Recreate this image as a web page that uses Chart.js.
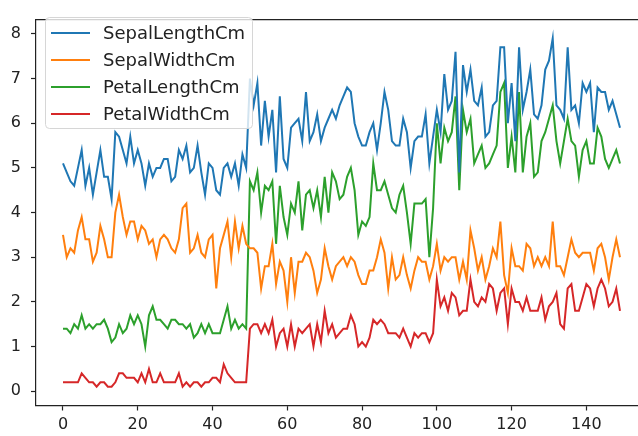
<!DOCTYPE html>
<html>
<head>
<meta charset="utf-8">
<script src="https://cdn.jsdelivr.net/npm/chart.js@4"></script>
<style>
  html, body { margin: 0; padding: 0; background: #fff; overflow: hidden; }
  #wrap { position: relative; width: 659px; height: 436px; }
</style>
</head>
<body>
<div id="wrap"><canvas id="chart"></canvas></div>
<script>
// Iris measurements, one value per row (index 0..149)
const sepalLength = [5.1,4.9,4.7,4.6,5.0,5.4,4.6,5.0,4.4,4.9,5.4,4.8,4.8,4.3,5.8,5.7,5.4,5.1,5.7,5.1,5.4,5.1,4.6,5.1,4.8,5.0,5.0,5.2,5.2,4.7,4.8,5.4,5.2,5.5,4.9,5.0,5.5,4.9,4.4,5.1,5.0,4.5,4.4,5.0,5.1,4.8,5.1,4.6,5.3,5.0,
  7.0,6.4,6.9,5.5,6.5,5.7,6.3,4.9,6.6,5.2,5.0,5.9,6.0,6.1,5.6,6.7,5.6,5.8,6.2,5.6,5.9,6.1,6.3,6.1,6.4,6.6,6.8,6.7,6.0,5.7,5.5,5.5,5.8,6.0,5.4,6.0,6.7,6.3,5.6,5.5,5.5,6.1,5.8,5.0,5.6,5.7,5.7,6.2,5.1,5.7,
  6.3,5.8,7.1,6.3,6.5,7.6,4.9,7.3,6.7,7.2,6.5,6.4,6.8,5.7,5.8,6.4,6.5,7.7,7.7,6.0,6.9,5.6,7.7,6.3,6.7,7.2,6.2,6.1,6.4,7.2,7.4,7.9,6.4,6.3,6.1,7.7,6.3,6.4,6.0,6.9,6.7,6.9,5.8,6.8,6.7,6.7,6.3,6.5,6.2,5.9];
const sepalWidth = [3.5,3.0,3.2,3.1,3.6,3.9,3.4,3.4,2.9,3.1,3.7,3.4,3.0,3.0,4.0,4.4,3.9,3.5,3.8,3.8,3.4,3.7,3.6,3.3,3.4,3.0,3.4,3.5,3.4,3.2,3.1,3.4,4.1,4.2,3.1,3.2,3.5,3.1,3.0,3.4,3.5,2.3,3.2,3.5,3.8,3.0,3.8,3.2,3.7,3.3,
  3.2,3.2,3.1,2.3,2.8,2.8,3.3,2.4,2.9,2.7,2.0,3.0,2.2,2.9,2.9,3.1,3.0,2.7,2.2,2.5,3.2,2.8,2.5,2.8,2.9,3.0,2.8,3.0,2.9,2.6,2.4,2.4,2.7,2.7,3.0,3.4,3.1,2.3,3.0,2.5,2.6,3.0,2.6,2.3,2.7,3.0,2.9,2.9,2.5,2.8,
  3.3,2.7,3.0,2.9,3.0,3.0,2.5,2.9,2.5,3.6,3.2,2.7,3.0,2.5,2.8,3.2,3.0,3.8,2.6,2.2,3.2,2.8,2.8,2.7,3.3,3.2,2.8,3.0,2.8,3.0,2.8,3.8,2.8,2.8,2.6,3.0,3.4,3.1,3.0,3.1,3.1,3.1,2.7,3.2,3.3,3.0,2.5,3.0,3.4,3.0];
const petalLength = [1.4,1.4,1.3,1.5,1.4,1.7,1.4,1.5,1.4,1.5,1.5,1.6,1.4,1.1,1.2,1.5,1.3,1.4,1.7,1.5,1.7,1.5,1.0,1.7,1.9,1.6,1.6,1.5,1.4,1.6,1.6,1.5,1.5,1.4,1.5,1.2,1.3,1.5,1.3,1.5,1.3,1.3,1.3,1.6,1.9,1.4,1.6,1.4,1.5,1.4,
  4.7,4.5,4.9,4.0,4.6,4.5,4.7,3.3,4.6,3.9,3.5,4.2,4.0,4.7,3.6,4.4,4.5,4.1,4.5,3.9,4.8,4.0,4.9,4.7,4.3,4.4,4.8,5.0,4.5,3.5,3.8,3.7,3.9,5.1,4.5,4.5,4.7,4.4,4.1,4.0,4.4,4.6,4.0,3.3,4.2,4.2,4.2,4.3,3.0,4.1,
  6.0,5.1,5.9,5.6,5.8,6.6,4.5,6.3,5.8,6.1,5.1,5.3,5.5,5.0,5.1,5.3,5.5,6.7,6.9,5.0,5.7,4.9,6.7,4.9,5.7,6.0,4.8,4.9,5.6,5.8,6.1,6.4,5.6,5.1,5.6,6.1,5.6,5.5,4.8,5.4,5.6,5.1,5.1,5.9,5.7,5.2,5.0,5.2,5.4,5.1];
const petalWidth = [0.2,0.2,0.2,0.2,0.2,0.4,0.3,0.2,0.2,0.1,0.2,0.2,0.1,0.1,0.2,0.4,0.4,0.3,0.3,0.3,0.2,0.4,0.2,0.5,0.2,0.2,0.4,0.2,0.2,0.2,0.2,0.4,0.1,0.2,0.1,0.2,0.2,0.1,0.2,0.2,0.3,0.3,0.2,0.6,0.4,0.3,0.2,0.2,0.2,0.2,
  1.4,1.5,1.5,1.3,1.5,1.3,1.6,1.0,1.3,1.4,1.0,1.5,1.0,1.4,1.3,1.4,1.5,1.0,1.5,1.1,1.8,1.3,1.5,1.2,1.3,1.4,1.4,1.7,1.5,1.0,1.1,1.0,1.2,1.6,1.5,1.6,1.5,1.3,1.3,1.3,1.2,1.4,1.2,1.0,1.3,1.2,1.3,1.3,1.1,1.3,
  2.5,1.9,2.1,1.8,2.2,2.1,1.7,1.8,1.8,2.5,2.0,1.9,2.1,2.0,2.4,2.3,1.8,2.2,2.3,1.5,2.3,2.0,2.0,1.8,2.1,1.8,1.8,1.8,2.1,1.6,1.9,2.0,2.2,1.5,1.4,2.3,2.4,1.8,1.8,2.1,2.4,2.3,1.9,2.3,2.5,2.3,1.9,2.0,2.3,1.8];

const seriesNames = ["SepalLengthCm", "SepalWidthCm", "PetalLengthCm", "PetalWidthCm"];
const seriesColors = ["#1f77b4", "#ff7f0e", "#2ca02c", "#d62728"];
const xTicks = [0, 20, 40, 60, 80, 100, 120, 140];
const yTicks = [0, 1, 2, 3, 4, 5, 6, 7, 8];

const FONT = "'DejaVu Sans', sans-serif";
const series = [sepalLength, sepalWidth, petalLength, petalWidth];

// matplotlib-style legend box in the upper left + the top spine
const mplBits = {
  id: "mplBits",
  afterDatasetsDraw(chart) {
    const { ctx, chartArea } = chart;
    ctx.save();
    // top spine
    ctx.strokeStyle = "#222";
    ctx.lineWidth = 1.2;
    ctx.beginPath();
    ctx.moveTo(chartArea.left, chartArea.top);
    ctx.lineTo(chartArea.right, chartArea.top);
    ctx.stroke();

    // legend
    const x = 45, y = 17, w = 207, h = 111, r = 4;
    ctx.beginPath();
    ctx.roundRect(x + 0.5, y + 0.5, w, h, r);
    ctx.fillStyle = "rgba(255,255,255,0.8)";
    ctx.fill();
    ctx.strokeStyle = "#d6d6d6";
    ctx.lineWidth = 1;
    ctx.stroke();

    ctx.font = "18px " + FONT;
    ctx.textBaseline = "middle";
    chart.data.datasets.forEach((ds, i) => {
      const ry = 33 + i * 27;
      ctx.strokeStyle = ds.borderColor;
      ctx.lineWidth = 2;
      ctx.beginPath();
      ctx.moveTo(51, ry);
      ctx.lineTo(90, ry);
      ctx.stroke();
      ctx.fillStyle = "#222";
      ctx.fillText(ds.label, 103, ry + 1);
    });
    ctx.restore();
  }
};

new Chart(document.getElementById("chart"), {
  type: "line",
  data: {
    datasets: series.map((arr, i) => ({
      label: seriesNames[i],
      data: arr.map((v, k) => ({ x: k, y: v })),
      borderColor: seriesColors[i],
      borderWidth: 2,
      pointRadius: 0,
      tension: 0,
      fill: false
    }))
  },
  options: {
    responsive: true,
    maintainAspectRatio: false,
    animation: false,
    layout: { padding: { top: 7, right: 12, left: 0, bottom: 0 } },
    plugins: {
      legend: { display: false },
      tooltip: { enabled: false }
    },
    scales: {
      x: {
        type: "linear",
        min: -7.22,
        max: 156.22,
        afterBuildTicks: s => { s.ticks = xTicks.map(v => ({ value: v })); },
        afterFit: s => { s.height = 30.5; },
        ticks: { color: "#222", font: { family: FONT, size: 16 }, padding: 5, maxRotation: 0 },
        grid: { drawOnChartArea: false, drawTicks: true, tickLength: 5, tickWidth: 1.2, color: "#222" },
        border: { display: true, color: "#222", width: 1.2 }
      },
      y: {
        min: -0.32,
        max: 8.32,
        afterBuildTicks: s => { s.ticks = yTicks.map(v => ({ value: v })); },
        afterFit: s => { s.width = 36; },
        ticks: { color: "#222", font: { family: FONT, size: 16 }, padding: 10 },
        grid: { drawOnChartArea: false, drawTicks: true, tickLength: 5, tickWidth: 1.2, color: "#222" },
        border: { display: true, color: "#222", width: 1.2 }
      }
    }
  },
  plugins: [mplBits]
});
</script>
</body>
</html>
